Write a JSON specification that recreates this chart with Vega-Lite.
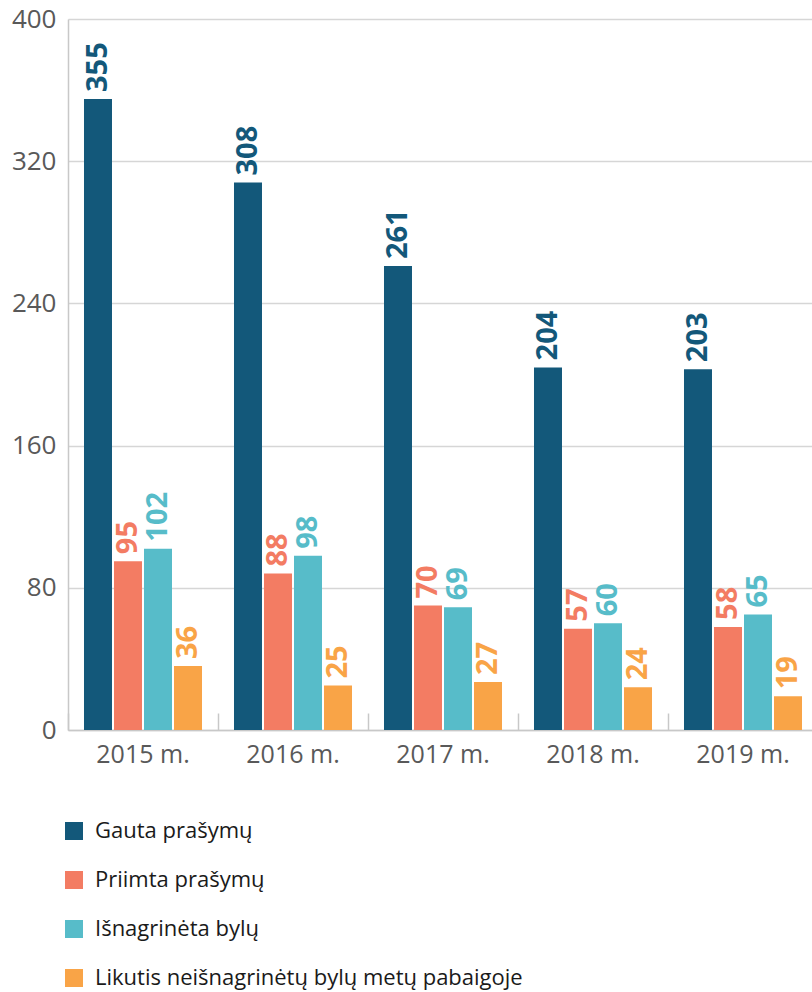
{
  "$schema": "https://vega.github.io/schema/vega-lite/v6.json",
  "width": 750,
  "height": 711,
  "autosize": {"type": "none"},
  "padding": {"left": 68, "top": 19, "right": 0, "bottom": 262},
  "background": "white",
  "config": {"view": {"stroke": null}, "font": "Open Sans"},
  "data": {"values": [
    {"year": "2015 m.", "series": "Gauta prašymų", "value": 355},
    {"year": "2015 m.", "series": "Priimta prašymų", "value": 95},
    {"year": "2015 m.", "series": "Išnagrinėta bylų", "value": 102},
    {"year": "2015 m.", "series": "Likutis neišnagrinėtų bylų metų pabaigoje", "value": 36},
    {"year": "2016 m.", "series": "Gauta prašymų", "value": 308},
    {"year": "2016 m.", "series": "Priimta prašymų", "value": 88},
    {"year": "2016 m.", "series": "Išnagrinėta bylų", "value": 98},
    {"year": "2016 m.", "series": "Likutis neišnagrinėtų bylų metų pabaigoje", "value": 25},
    {"year": "2017 m.", "series": "Gauta prašymų", "value": 261},
    {"year": "2017 m.", "series": "Priimta prašymų", "value": 70},
    {"year": "2017 m.", "series": "Išnagrinėta bylų", "value": 69},
    {"year": "2017 m.", "series": "Likutis neišnagrinėtų bylų metų pabaigoje", "value": 27},
    {"year": "2018 m.", "series": "Gauta prašymų", "value": 204},
    {"year": "2018 m.", "series": "Priimta prašymų", "value": 57},
    {"year": "2018 m.", "series": "Išnagrinėta bylų", "value": 60},
    {"year": "2018 m.", "series": "Likutis neišnagrinėtų bylų metų pabaigoje", "value": 24},
    {"year": "2019 m.", "series": "Gauta prašymų", "value": 203},
    {"year": "2019 m.", "series": "Priimta prašymų", "value": 58},
    {"year": "2019 m.", "series": "Išnagrinėta bylų", "value": 65},
    {"year": "2019 m.", "series": "Likutis neišnagrinėtų bylų metų pabaigoje", "value": 19}
  ]},
  "encoding": {
    "x": {
      "field": "year", "type": "nominal",
      "scale": {"paddingInner": 0, "paddingOuter": 0},
      "axis": {
        "title": null, "labelAngle": 0, "labelFontSize": 25, "labelColor": "#595959",
        "labelFont": "Open Sans",
        "domainColor": "#c8c8c8", "domainWidth": 1.5,
        "tickColor": "#c8c8c8", "tickSize": -17, "tickWidth": 1.5, "bandPosition": 0,
        "labelPadding": 29
      }
    },
    "xOffset": {
      "field": "series", "type": "nominal",
      "sort": ["Gauta prašymų", "Priimta prašymų", "Išnagrinėta bylų", "Likutis neišnagrinėtų bylų metų pabaigoje"],
      "scale": {"paddingInner": 0.0667, "paddingOuter": 0.533}
    },
    "y": {
      "field": "value", "type": "quantitative",
      "scale": {"domain": [0, 400], "nice": false},
      "axis": {
        "title": null, "values": [0, 80, 160, 240, 320, 400],
        "labelFontSize": 26, "labelColor": "#595959", "labelFont": "Open Sans",
        "labelPadding": 12, "ticks": false,
        "domainColor": "#c8c8c8", "domainWidth": 1.5,
        "gridColor": "#d6d6d6", "gridWidth": 1.5
      }
    },
    "color": {
      "field": "series", "type": "nominal",
      "scale": {
        "domain": ["Gauta prašymų", "Priimta prašymų", "Išnagrinėta bylų", "Likutis neišnagrinėtų bylų metų pabaigoje"],
        "range": ["#13587a", "#f37c63", "#57bcc9", "#f9a447"]
      },
      "legend": {
        "title": null, "orient": "none", "legendX": -5, "legendY": 801,
        "direction": "vertical",
        "symbolType": "square", "symbolSize": 324, "symbolStrokeWidth": 0,
        "symbolOpacity": 1,
        "labelFontSize": 22, "labelColor": "#1a1a1a", "labelFont": "Open Sans",
        "labelOffset": 10, "rowPadding": 27, "labelLimit": 600
      }
    }
  },
  "layer": [
    {"mark": {"type": "bar"}},
    {
      "mark": {"type": "text", "angle": 270, "align": "left", "baseline": "middle", "dx": 7,
               "fontSize": 29, "fontWeight": "bold", "font": "Open Sans"},
      "encoding": {"text": {"field": "value", "type": "quantitative"}}
    }
  ]
}
